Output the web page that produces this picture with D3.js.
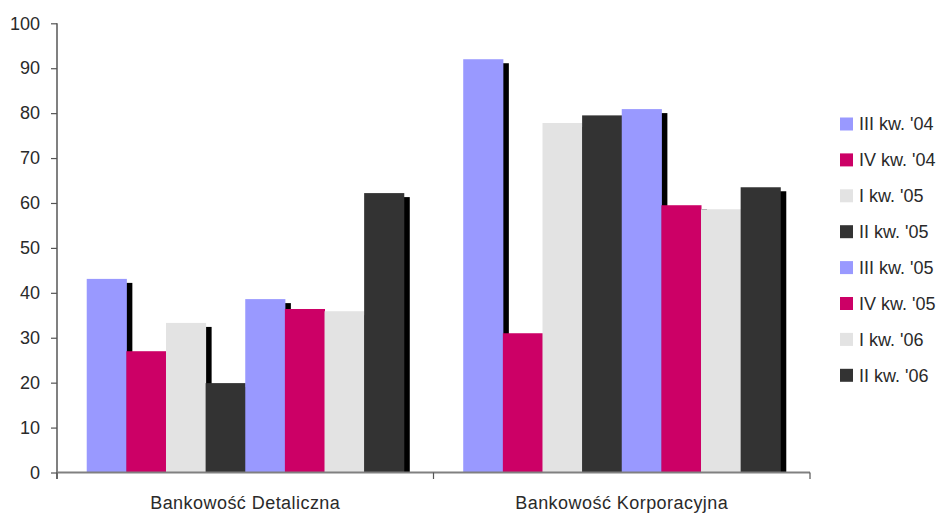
<!DOCTYPE html>
<html>
<head>
<meta charset="utf-8">
<script src="https://cdn.jsdelivr.net/npm/d3@7"></script>
<style>
  body { margin: 0; background: #fff; }
  svg text { font-family: "Liberation Sans", Arial, sans-serif; fill: #2a2a2a; }
</style>
</head>
<body>
<svg id="chart" width="942" height="514"></svg>
<script>
// Segments and quarters
const categories = ["Bankowość Detaliczna", "Bankowość Korporacyjna"];
const quarters = ["III kw. '04", "IV kw. '04", "I kw. '05", "II kw. '05",
                  "III kw. '05", "IV kw. '05", "I kw. '06", "II kw. '06"];
const colors = ["#9999FF", "#CC0066", "#E3E3E3", "#333333",
                "#9999FF", "#CC0066", "#E3E3E3", "#333333"];

// Values per quarter, one entry per segment
const detaliczna    = [43.1, 27.0, 33.3, 19.9, 38.6, 36.4, 35.9, 62.2];
const korporacyjna  = [92.0, 31.0, 77.8, 79.5, 80.9, 59.5, 58.6, 63.5];
const yTicks = [0, 10, 20, 30, 40, 50, 60, 70, 80, 90, 100];

const seriesValues = [detaliczna, korporacyjna];

const svg = d3.select("#chart");
const plotLeft = 57, plotRight = 810, plotTop = 23.3, plotBottom = 472.5;

const x0 = d3.scaleBand().domain(categories).range([plotLeft, plotRight]).paddingInner(0).paddingOuter(0);
const x1 = d3.scaleBand().domain(d3.range(quarters.length))
  .range([0, x0.bandwidth()]).paddingInner(0).paddingOuter(0.75);
const y = d3.scaleLinear().domain([0, 100]).range([plotBottom, plotTop]);

const data = [];
categories.forEach((c, ci) => {
  quarters.forEach((q, qi) => data.push({ c, qi, v: seriesValues[ci][qi] }));
});

// Drop shadows behind all bars
const shadowDx = 6, shadowDy = 4;
svg.append("g").selectAll("rect").data(data).join("rect")
  .attr("x", d => x0(d.c) + x1(d.qi) + shadowDx)
  .attr("y", d => y(d.v) + shadowDy)
  .attr("width", x1.bandwidth())
  .attr("height", d => Math.max(0, y(0) - y(d.v) - shadowDy))
  .attr("fill", "#000");

svg.append("g").selectAll("rect").data(data).join("rect")
  .attr("x", d => x0(d.c) + x1(d.qi))
  .attr("y", d => y(d.v))
  .attr("width", x1.bandwidth() + 0.5)
  .attr("height", d => y(0) - y(d.v))
  .attr("fill", d => colors[d.qi]);

// Y axis
const yAxis = svg.append("g").attr("transform", `translate(${plotLeft},0)`)
  .call(d3.axisLeft(y).tickValues(yTicks).tickSize(6).tickPadding(11).tickSizeOuter(0));
yAxis.select(".domain").attr("stroke", "#808080").attr("stroke-width", 2)
  .attr("d", `M0,${plotTop}V${plotBottom + 6.5}`);
yAxis.selectAll(".tick line").attr("stroke", "#555").attr("stroke-width", 1.2);
yAxis.selectAll(".tick text").style("font-size", "18px").attr("fill", "#2a2a2a");

// X axis with ticks on category boundaries
const xAxis = svg.append("g").attr("transform", `translate(0,${plotBottom})`);
xAxis.append("line").attr("x1", plotLeft).attr("x2", plotRight)
  .attr("stroke", "#808080").attr("stroke-width", 2);
const bounds = [plotLeft, x0(categories[1]), plotRight];
xAxis.selectAll(".bt").data(bounds).join("line")
  .attr("class", "bt")
  .attr("x1", d => d).attr("x2", d => d).attr("y1", 0).attr("y2", 6.5)
  .attr("stroke", "#555").attr("stroke-width", 1.2);
xAxis.selectAll(".cat").data(categories).join("text")
  .attr("class", "cat")
  .attr("x", d => x0(d) + x0.bandwidth() / 2)
  .attr("y", 36)
  .attr("text-anchor", "middle")
  .style("font-size", "18px")
  .style("letter-spacing", "0.45px")
  .text(d => d);

// Legend
const legend = svg.append("g").attr("transform", "translate(840,124)");
const rows = legend.selectAll("g").data(quarters).join("g")
  .attr("transform", (d, i) => `translate(0,${i * 35.9})`);
rows.append("rect").attr("x", 0).attr("y", -6.5).attr("width", 13).attr("height", 13)
  .attr("fill", (d, i) => colors[i]);
rows.append("text").attr("x", 19).attr("y", 0).attr("dy", "0.35em")
  .style("font-size", "18px").text(d => d);
</script>
</body>
</html>
